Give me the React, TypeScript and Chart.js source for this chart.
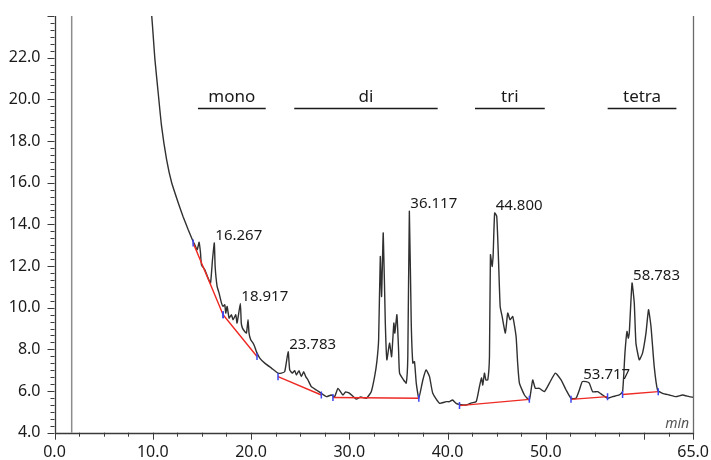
import { useEffect, useRef } from "react";
import { Chart, registerables } from "chart.js";

Chart.register(...registerables);

// ---- data (retention time in min, detector signal) ----
const times = [
  9.50, 9.88, 10.22, 10.55, 10.90, 11.41, 11.92, 12.59, 13.09, 13.60,
  14.11, 14.28, 14.52, 14.72, 14.86, 14.96, 15.30, 15.63, 15.88, 16.08,
  16.267, 16.35, 16.55, 16.75, 17.00, 17.16, 17.33, 17.43, 17.57, 17.77,
  18.01, 18.17, 18.45, 18.58, 18.917, 19.01, 19.13, 19.36, 19.54, 19.70,
  19.80, 19.97, 20.21, 20.38, 20.55, 20.89, 21.40, 22.08, 22.75, 23.09,
  23.43, 23.783, 23.94, 24.21, 24.45, 24.62, 24.88, 25.13, 25.36, 25.57,
  25.80, 26.14, 26.65, 27.16, 27.67, 28.18, 28.51, 28.85, 29.36, 29.63,
  30.04, 30.72, 31.16, 31.74, 32.24, 32.58, 32.81, 32.99, 33.16, 33.29,
  33.46, 33.67, 33.83, 34.10, 34.31, 34.54, 34.64, 34.85, 35.02, 35.12,
  35.53, 35.80, 35.96, 36.117, 36.31, 36.47, 36.64, 36.82, 37.08, 37.49,
  37.83, 38.17, 38.50, 39.19, 39.87, 40.20, 40.51, 40.88, 41.22, 41.90,
  42.44, 42.92, 43.25, 43.46, 43.59, 43.76, 43.91, 44.10, 44.27, 44.37,
  44.54, 44.64, 44.80, 45.01, 45.18, 45.36, 45.56, 45.89, 46.13, 46.37,
  46.64, 46.98, 47.14, 47.32, 47.83, 48.33, 48.67, 48.94, 49.35, 49.86,
  50.37, 50.98, 51.56, 52.07, 52.57, 53.08, 53.42, 53.717, 54.10, 54.43,
  54.77, 55.28, 55.79, 56.29, 56.80, 57.48, 57.82, 58.06, 58.27, 58.40,
  58.50, 58.783, 59.01, 59.18, 59.52, 59.85, 60.20, 60.46, 60.71, 61.04,
  61.38, 61.89, 62.57, 63.25, 63.92, 64.60, 65.0,
];
const signal = [
  25.28, 24.08, 21.92, 20.33, 18.70, 17.11, 16.01, 15.04, 14.37, 13.75,
  13.18, 13.02, 12.78, 13.14, 12.63, 12.06, 11.82, 11.42, 11.18, 12.30,
  13.11, 11.98, 11.02, 10.70, 10.22, 10.06, 10.14, 9.74, 10.06, 9.50,
  9.66, 9.42, 9.66, 9.26, 10.20, 9.26, 9.02, 8.86, 8.78, 9.42,
  8.78, 8.46, 8.30, 8.13, 7.89, 7.58, 7.34, 7.10, 6.86, 6.86,
  6.93, 7.89, 7.01, 6.86, 6.98, 6.77, 6.98, 6.69, 6.93, 6.69,
  6.53, 6.21, 6.05, 5.89, 5.73, 5.81, 5.73, 6.13, 5.81, 5.96,
  5.89, 5.61, 5.72, 5.65, 5.97, 6.69, 7.41, 8.46, 12.46, 10.54,
  13.59, 9.26, 7.50, 8.30, 7.65, 9.26, 8.78, 9.66, 7.98, 6.86,
  6.53, 6.38, 7.65, 14.63, 9.26, 7.34, 7.41, 6.38, 5.65, 6.53,
  7.01, 6.69, 5.89, 5.41, 5.49, 5.49, 5.57, 5.41, 5.36, 5.33,
  5.43, 5.49, 6.21, 6.63, 6.29, 6.86, 6.53, 6.53, 7.65, 12.54,
  11.98, 12.46, 14.55, 14.39, 12.46, 10.06, 9.58, 8.78, 9.74, 9.42,
  9.58, 8.62, 7.34, 6.38, 5.81, 5.57, 6.53, 6.13, 6.13, 5.97,
  6.38, 6.86, 6.53, 6.05, 5.65, 5.65, 6.05, 6.45, 6.45, 6.38,
  5.97, 5.97, 5.81, 5.65, 5.73, 5.81, 5.97, 7.82, 8.86, 8.54,
  8.78, 11.18, 10.22, 8.30, 7.50, 7.82, 8.78, 9.90, 9.10, 7.17,
  6.05, 5.89, 5.81, 5.73, 5.81, 5.73, 5.70,
];

const injectionTime = 1.75;

const peakNames = ["16.267", "18.917", "23.783", "36.117", "44.800", "53.717", "58.783"];
const peakTimes = [16.267, 18.917, 23.783, 36.117, 44.8, 53.717, 58.783];
const peakHeights = [13.11, 10.2, 7.89, 14.63, 14.55, 6.45, 11.18];

const groupNames = ["mono", "di", "tri", "tetra"];
const groupStarts = [14.6, 24.4, 42.8, 56.3];
const groupEnds = [21.5, 39.0, 49.9, 63.3];
const groupLevel = 19.56;

const baseStartT = [14.11, 17.16, 22.75, 28.34, 41.22, 52.57, 57.82];
const baseStartY = [13.11, 9.66, 6.69, 5.69, 5.3, 5.6, 5.83];
const baseEndT = [17.16, 20.61, 27.16, 37.08, 48.33, 56.29, 61.45];
const baseEndY = [9.66, 7.66, 5.81, 5.65, 5.6, 5.73, 5.97];

const xTickLabels = [0, 10, 20, 30, 40, 50, 65];
const yTickLabels = [4, 6, 8, 10, 12, 14, 16, 18, 20, 22];
const X_MIN = 0;
const X_MAX = 65;
const Y_MIN = 4;
const Y_MAX = 24;

const FONT = '"Noto Sans", "Open Sans", sans-serif';

const decorPlugin = {
  id: "decor",
  afterDatasetsDraw(chart: any) {
    const { ctx, chartArea: a, scales } = chart;
    const x = scales.x;
    const y = scales.y;
    ctx.save();
    // right frame line
    ctx.strokeStyle = "#6a6a6a";
    ctx.lineWidth = 1.3;
    ctx.beginPath();
    ctx.moveTo(Math.round(a.right) + 0.5, a.top);
    ctx.lineTo(Math.round(a.right) + 0.5, a.bottom);
    ctx.stroke();
    // axes
    ctx.strokeStyle = "#3a3a3a";
    ctx.lineWidth = 1.3;
    ctx.beginPath();
    ctx.moveTo(Math.round(a.left) + 0.5, a.top);
    ctx.lineTo(Math.round(a.left) + 0.5, Math.round(a.bottom) + 0.5);
    ctx.lineTo(a.right + 1, Math.round(a.bottom) + 0.5);
    ctx.stroke();
    // x ticks
    ctx.lineWidth = 1;
    ctx.strokeStyle = "#3a3a3a";
    for (let i = 0; i <= 26; i++) {
      const v = i * 2.5;
      const px = Math.round(x.getPixelForValue(v)) + 0.5;
      const major = i % 4 === 0 || v === X_MAX;
      ctx.beginPath();
      ctx.moveTo(px, a.bottom);
      ctx.lineTo(px, a.bottom + (major ? 7 : 4));
      ctx.stroke();
    }
    // y ticks
    for (let i = 0; i <= 60; i++) {
      const v = Y_MIN + i / 3;
      const py = Math.round(y.getPixelForValue(v)) + 0.5;
      const major = i % 6 === 0;
      ctx.beginPath();
      ctx.moveTo(a.left, py);
      ctx.lineTo(a.left - (major ? 7 : 4), py);
      ctx.stroke();
    }
    // peak labels
    ctx.fillStyle = "#1a1a1a";
    ctx.font = `15px ${FONT}`;
    ctx.textAlign = "left";
    ctx.textBaseline = "alphabetic";
    peakNames.forEach((name, i) => {
      ctx.fillText(name, x.getPixelForValue(peakTimes[i]) + 1, y.getPixelForValue(peakHeights[i]) - 3);
    });
    // group labels
    ctx.font = `17px ${FONT}`;
    ctx.textAlign = "center";
    groupNames.forEach((name, i) => {
      const cx = x.getPixelForValue((groupStarts[i] + groupEnds[i]) / 2);
      ctx.fillText(name, cx, y.getPixelForValue(groupLevel) - 7);
    });
    // unit
    ctx.fillStyle = "#555";
    ctx.font = `italic 14px ${FONT}`;
    ctx.textAlign = "right";
    ctx.fillText("min", a.right - 4, a.bottom - 5);
    ctx.restore();
  },
};

export default function App() {
  const canvasRef = useRef<HTMLCanvasElement | null>(null);

  useEffect(() => {
    const canvas = canvasRef.current;
    if (!canvas) return;

    const trace = times.map((t, i) => ({ x: t, y: signal[i] }));
    const baseline: any[] = [];
    const marks: any[] = [];
    baseStartT.forEach((t, i) => {
      baseline.push({ x: t, y: baseStartY[i] });
      baseline.push({ x: baseEndT[i], y: baseEndY[i] });
      baseline.push({ x: baseEndT[i], y: null });
      marks.push({ x: t, y: baseStartY[i] });
      marks.push({ x: baseEndT[i], y: baseEndY[i] });
    });
    const groups: any[] = [];
    groupStarts.forEach((s, i) => {
      groups.push({ x: s, y: groupLevel });
      groups.push({ x: groupEnds[i], y: groupLevel });
      groups.push({ x: groupEnds[i], y: null });
    });

    const chart = new Chart(canvas, {
      type: "line",
      data: {
        datasets: [
          {
            data: marks,
            showLine: false,
            pointStyle: "line",
            rotation: 90,
            pointRadius: 3.5,
            borderColor: "#3b45f0",
            borderWidth: 1.5,
            order: 0,
          } as any,
          {
            data: baseline,
            borderColor: "#ee2a24",
            borderWidth: 1.4,
            pointRadius: 0,
            spanGaps: false,
            order: 1,
          },
          {
            data: trace,
            borderColor: "#303030",
            borderWidth: 1.4,
            pointRadius: 0,
            tension: 0.15,
            order: 2,
          },
          {
            data: [
              { x: injectionTime, y: Y_MIN },
              { x: injectionTime, y: Y_MAX + 5 },
            ],
            borderColor: "#8c8c8c",
            borderWidth: 1.5,
            pointRadius: 0,
            order: 3,
          },
          {
            data: groups,
            borderColor: "#1a1a1a",
            borderWidth: 1.3,
            pointRadius: 0,
            spanGaps: false,
            order: 4,
          },
        ],
      },
      options: {
        animation: false,
        responsive: false,
        devicePixelRatio: 1,
        events: [],
        layout: { padding: { left: 0, top: 16, right: 17, bottom: 0 } },
        plugins: { legend: { display: false }, tooltip: { enabled: false } },
        scales: {
          x: {
            type: "linear",
            min: X_MIN,
            max: X_MAX,
            grid: { display: false },
            border: { display: false },
            afterBuildTicks: (s: any) => {
              s.ticks = xTickLabels.map((v) => ({ value: v }));
            },
            afterFit: (s: any) => {
              s.height = 27.3;
            },
            ticks: {
              autoSkip: false,
              maxRotation: 0,
              padding: 2,
              color: "#1a1a1a",
              font: { family: FONT, size: 16 },
              callback: (v: any) => Number(v).toFixed(1),
            },
          },
          y: {
            type: "linear",
            min: Y_MIN,
            max: Y_MAX,
            grid: { display: false },
            border: { display: false },
            afterBuildTicks: (s: any) => {
              s.ticks = yTickLabels.map((v) => ({ value: v }));
            },
            afterFit: (s: any) => {
              s.width = 54.5;
            },
            ticks: {
              autoSkip: false,
              padding: 6,
              color: "#1a1a1a",
              font: { family: FONT, size: 16 },
              callback: (v: any) => Number(v).toFixed(1),
            },
          },
        },
      },
      plugins: [decorPlugin],
    });

    return () => chart.destroy();
  }, []);

  return (
    <div style={{ position: "absolute", left: 0, top: 0, width: 711, height: 460, background: "#fff" }}>
      <canvas ref={canvasRef} width={711} height={460} />
    </div>
  );
}
